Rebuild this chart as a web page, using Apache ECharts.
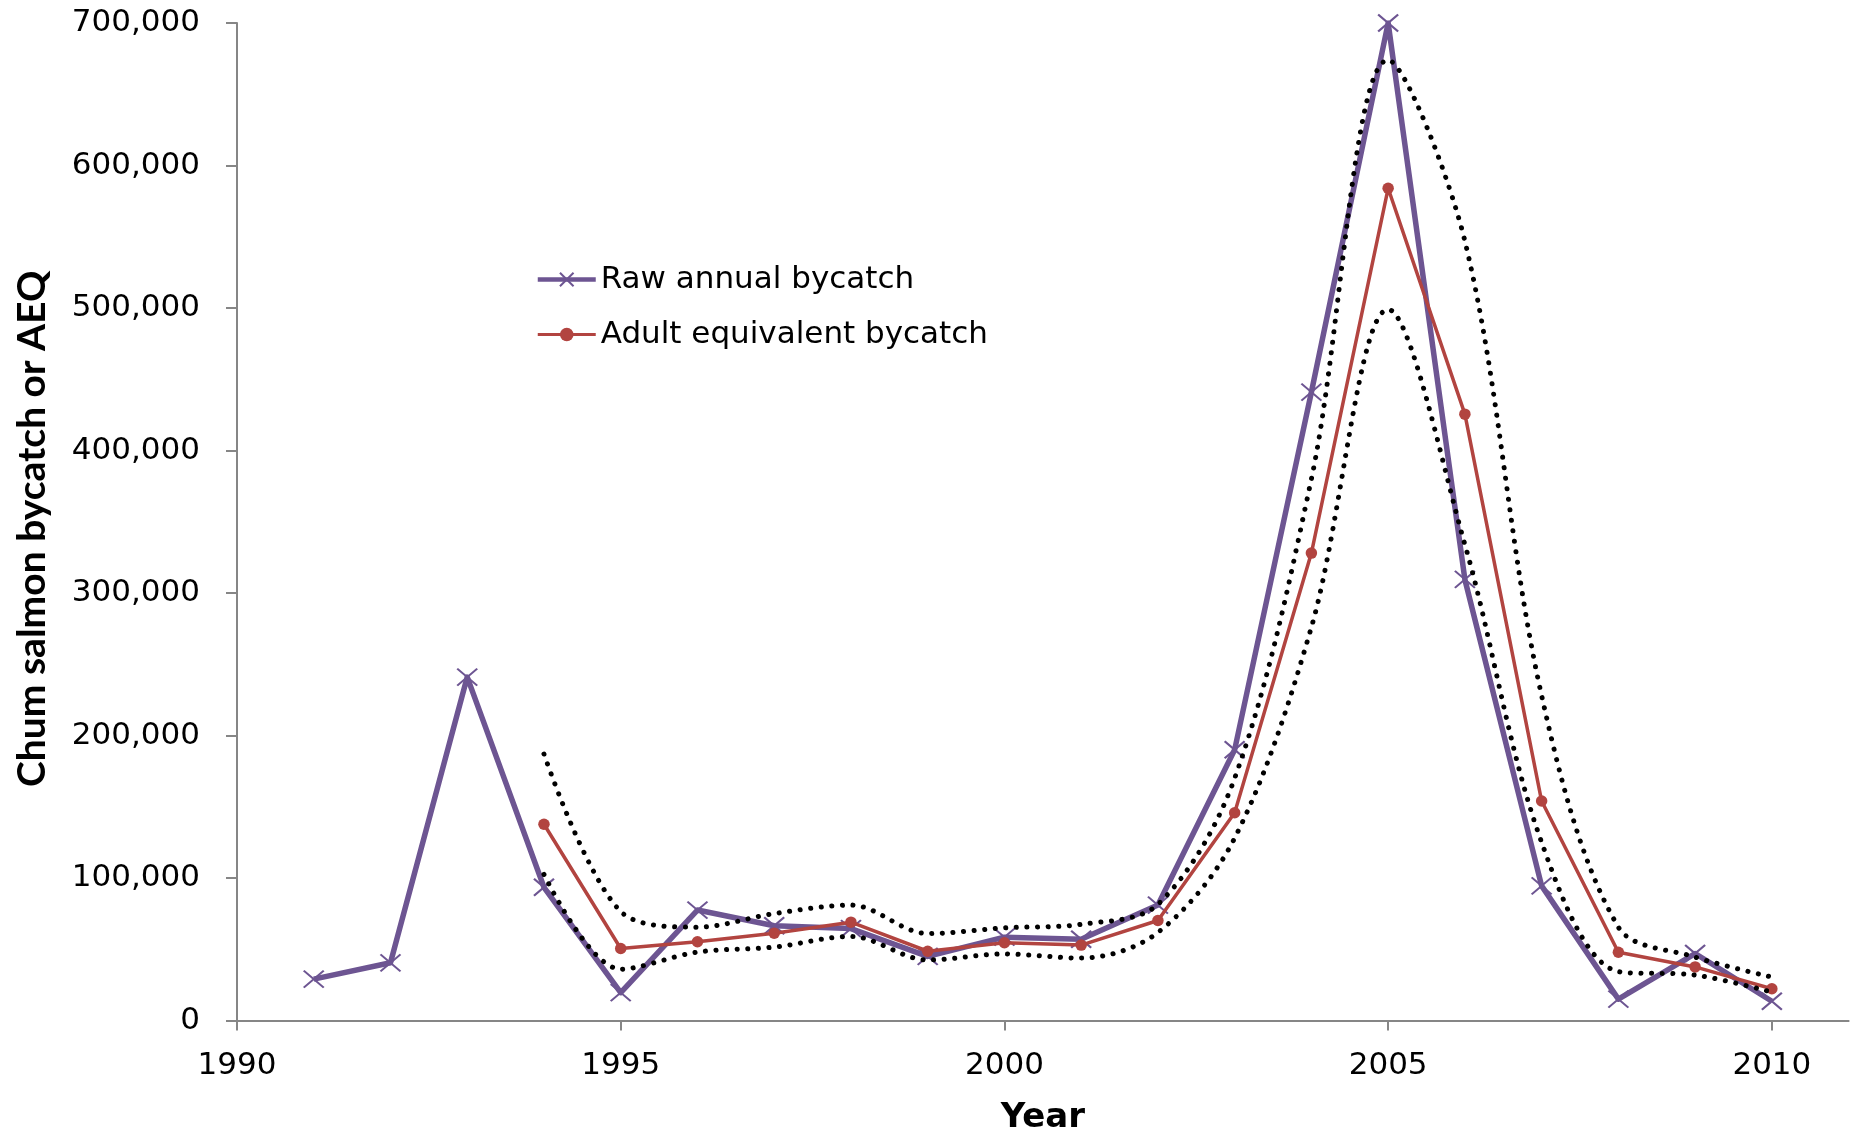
<!DOCTYPE html>
<html>
<head>
<meta charset="utf-8">
<script src="https://cdn.jsdelivr.net/npm/echarts@6/dist/echarts.min.js"></script>
<style>
html,body{margin:0;padding:0;background:#fff;}
#chart{width:1857px;height:1135px;}
</style>
</head>
<body>
<div id="chart"></div>
<script>
// ---- data ----
const rawYears = [1991,1992,1993,1994,1995,1996,1997,1998,1999,2000,2001,2002,2003,2004,2005,2006,2007,2008,2009,2010];
const rawBycatch = [29000,40500,241000,93500,19500,77500,66500,64500,45000,58500,57000,81000,190000,441000,700000,309500,94500,15000,47000,13500];
const aeqYears = [1994,1995,1996,1997,1998,1999,2000,2001,2002,2003,2004,2005,2006,2007,2008,2009,2010];
const aeqBycatch = [137700,50500,55300,61300,69000,48600,54600,52900,70200,145800,328000,584000,425500,154000,47900,37600,22300];
const aeqUpper = [187000,76500,65500,75000,81000,61000,65000,67500,81500,170000,380000,674000,547000,228000,65500,44500,30500];
const aeqLower = [102500,36000,48000,51500,59000,42500,46700,43800,61800,128000,276000,499000,334000,125000,34300,31900,19900];
const xTicks = [1990,1995,2000,2005,2010];
const yTicks = [0,100000,200000,300000,400000,500000,600000,700000];

const pairs = (xs, ys) => xs.map((x, i) => [x, ys[i]]);

const purple = '#6D5592';
const red = '#B24440';
const axisGray = '#868686';

const chart = echarts.init(document.getElementById('chart'), null, {renderer: 'canvas'});
chart.setOption({
  animation: false,
  backgroundColor: '#ffffff',
  grid: {left: 237, right: 8.4, top: 23, bottom: 114.5, containLabel: false, outerBoundsMode: 'none'},
  legend: {
    orient: 'vertical',
    left: 530.5,
    top: 256.5,
    padding: 5,
    itemWidth: 58,
    itemHeight: 17,
    itemGap: 19,
    lineStyle: {width: 'inherit'},
    data: [
      {name: 'Raw annual bycatch', lineStyle: {width: 4.5}},
      {name: 'Adult equivalent bycatch', lineStyle: {width: 3.2}}
    ],
    textStyle: {fontFamily: 'DejaVu Sans', fontSize: 31, color: '#000', lineHeight: 36}
  },
  xAxis: {
    type: 'value',
    min: 1990, max: 2011, interval: 5,
    name: 'Year',
    nameLocation: 'middle',
    nameGap: 81,
    nameTextStyle: {fontFamily: 'DejaVu Sans', fontWeight: 'bold', fontSize: 34, color: '#000'},
    axisLine: {show: true, onZero: false, lineStyle: {color: axisGray, width: 2}},
    axisTick: {show: true, inside: false, length: 10, lineStyle: {color: axisGray, width: 2}, customValues: xTicks},
    axisLabel: {margin: 30, fontFamily: 'DejaVu Sans', fontSize: 31, color: '#000', customValues: xTicks, formatter: v => String(v)},
    splitLine: {show: false}
  },
  yAxis: {
    type: 'value',
    min: 0, max: 700000, interval: 100000,
    name: 'Chum salmon bycatch or AEQ',
    nameLocation: 'middle',
    nameGap: 185,
    nameTextStyle: {fontFamily: 'Lato', fontWeight: 'bold', fontSize: 39, color: '#000', padding: [0, 14, 0, 0]},
    axisLine: {show: true, lineStyle: {color: axisGray, width: 2}},
    axisTick: {show: true, inside: false, length: 11, lineStyle: {color: axisGray, width: 2}, customValues: yTicks},
    axisLabel: {margin: 37, fontFamily: 'DejaVu Sans', fontSize: 31, color: '#000', customValues: yTicks,
      formatter: v => Number(v).toLocaleString('en-US')},
    splitLine: {show: false}
  },
  series: [
    {
      name: 'Raw annual bycatch',
      type: 'line',
      data: pairs(rawYears, rawBycatch),
      symbol: 'path://M0,0L10,10M10,0L0,10',
      symbolSize: [20, 17],
      symbolKeepAspect: false,
      itemStyle: {color: purple, borderColor: purple, borderWidth: 2},
      lineStyle: {color: purple, width: 5.5, join: 'round'},
      z: 2
    },
    {
      name: 'Adult equivalent bycatch',
      type: 'line',
      data: pairs(aeqYears, aeqBycatch),
      symbol: 'circle',
      symbolSize: 11.5,
      itemStyle: {color: red},
      lineStyle: {color: red, width: 3.5},
      z: 3
    },
    {
      name: 'Upper',
      type: 'line',
      data: pairs(aeqYears, aeqUpper),
      symbol: 'none',
      smooth: 0.33,
      lineStyle: {color: '#000', width: 5, type: [0.1, 10.5], cap: 'round'},
      z: 4
    },
    {
      name: 'Lower',
      type: 'line',
      data: pairs(aeqYears, aeqLower),
      symbol: 'none',
      smooth: 0.33,
      lineStyle: {color: '#000', width: 5, type: [0.1, 10.5], cap: 'round'},
      z: 4
    }
  ]
});
</script>
</body>
</html>
